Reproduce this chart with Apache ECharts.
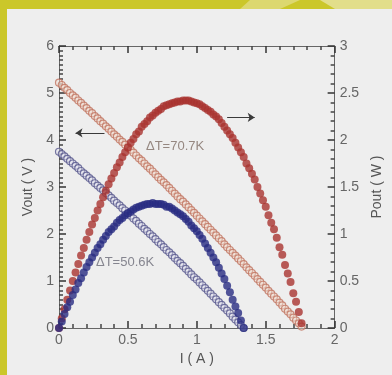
<!DOCTYPE html>
<html lang="en">
<head>
    <meta charset="UTF-8">
    <title>Vout / Pout vs I</title>
    <script type="text/javascript" src="https://cdn.jsdelivr.net/npm/echarts@6/dist/echarts.min.js"></script>
    <style>
        html, body { margin: 0; padding: 0; background: #eeeeee; }
    </style>
</head>
<body>
    <div id="main" style="width: 392px; height: 375px;"></div>
    <script type="text/javascript">
        // current (A) for the dT=70.7K run
        var redI = [0, 0.02, 0.04, 0.06, 0.08, 0.10, 0.12, 0.14, 0.16, 0.18,
            0.20, 0.22, 0.24, 0.26, 0.28, 0.30, 0.32, 0.34, 0.36, 0.38,
            0.40, 0.42, 0.44, 0.46, 0.48, 0.50, 0.52, 0.54, 0.56, 0.58,
            0.60, 0.62, 0.64, 0.66, 0.68, 0.70, 0.72, 0.74, 0.76, 0.78,
            0.80, 0.82, 0.84, 0.86, 0.88, 0.90, 0.92, 0.94, 0.96, 0.98,
            1.00, 1.02, 1.04, 1.06, 1.08, 1.10, 1.12, 1.14, 1.16, 1.18,
            1.20, 1.22, 1.24, 1.26, 1.28, 1.30, 1.32, 1.34, 1.36, 1.38,
            1.40, 1.42, 1.44, 1.46, 1.48, 1.50, 1.52, 1.54, 1.56, 1.58,
            1.60, 1.62, 1.64, 1.66, 1.68, 1.70, 1.72, 1.74, 1.76];
        var redV = [5.22, 5.17, 5.11, 5.06, 5.00, 4.95, 4.90, 4.84, 4.79, 4.73,
            4.68, 4.62, 4.57, 4.51, 4.46, 4.40, 4.35, 4.29, 4.24, 4.18,
            4.12, 4.07, 4.01, 3.96, 3.90, 3.84, 3.79, 3.73, 3.67, 3.61,
            3.56, 3.50, 3.44, 3.39, 3.33, 3.27, 3.21, 3.15, 3.10, 3.04,
            2.98, 2.92, 2.86, 2.80, 2.74, 2.69, 2.63, 2.57, 2.51, 2.45,
            2.39, 2.33, 2.27, 2.21, 2.15, 2.09, 2.03, 1.97, 1.91, 1.85,
            1.78, 1.72, 1.66, 1.60, 1.54, 1.48, 1.42, 1.36, 1.29, 1.23,
            1.17, 1.11, 1.04, 0.98, 0.92, 0.86, 0.79, 0.73, 0.67, 0.61,
            0.54, 0.48, 0.41, 0.35, 0.29, 0.22, 0.16, 0.10, 0.03];
        var redP = [0, 0.10, 0.20, 0.30, 0.40, 0.50, 0.59, 0.68, 0.77, 0.85,
            0.94, 1.02, 1.10, 1.17, 1.25, 1.32, 1.39, 1.46, 1.53, 1.59,
            1.65, 1.71, 1.76, 1.82, 1.87, 1.92, 1.97, 2.01, 2.06, 2.09,
            2.14, 2.17, 2.20, 2.24, 2.26, 2.29, 2.31, 2.33, 2.36, 2.37,
            2.38, 2.39, 2.40, 2.41, 2.41, 2.42, 2.42, 2.42, 2.41, 2.40,
            2.39, 2.38, 2.36, 2.34, 2.32, 2.30, 2.27, 2.25, 2.22, 2.18,
            2.14, 2.10, 2.06, 2.02, 1.97, 1.92, 1.87, 1.82, 1.75, 1.70,
            1.64, 1.58, 1.50, 1.43, 1.36, 1.29, 1.20, 1.12, 1.05, 0.96,
            0.86, 0.78, 0.67, 0.58, 0.49, 0.37, 0.28, 0.17, 0.05];

        // current (A) for the dT=50.6K run
        var blueI = [0, 0.02, 0.04, 0.06, 0.08, 0.10, 0.12, 0.14, 0.16, 0.18,
            0.20, 0.22, 0.24, 0.26, 0.28, 0.30, 0.32, 0.34, 0.36, 0.38,
            0.40, 0.42, 0.44, 0.46, 0.48, 0.50, 0.52, 0.54, 0.56, 0.58,
            0.60, 0.62, 0.64, 0.66, 0.68, 0.70, 0.72, 0.74, 0.76, 0.78,
            0.80, 0.82, 0.84, 0.86, 0.88, 0.90, 0.92, 0.94, 0.96, 0.98,
            1.00, 1.02, 1.04, 1.06, 1.08, 1.10, 1.12, 1.14, 1.16, 1.18,
            1.20, 1.22, 1.24, 1.26, 1.28, 1.30, 1.32, 1.34];
        var blueV = [3.75, 3.70, 3.65, 3.60, 3.55, 3.50, 3.45, 3.40, 3.34, 3.29,
            3.24, 3.19, 3.14, 3.08, 3.03, 2.98, 2.93, 2.87, 2.82, 2.77,
            2.71, 2.66, 2.61, 2.55, 2.50, 2.44, 2.39, 2.33, 2.28, 2.22,
            2.17, 2.11, 2.06, 2.00, 1.95, 1.89, 1.83, 1.78, 1.72, 1.66,
            1.61, 1.55, 1.49, 1.43, 1.38, 1.32, 1.26, 1.20, 1.14, 1.08,
            1.03, 0.97, 0.91, 0.85, 0.79, 0.73, 0.67, 0.61, 0.55, 0.49,
            0.43, 0.37, 0.31, 0.24, 0.18, 0.12, 0.06, 0.00];
        var blueP = [0, 0.07, 0.15, 0.22, 0.28, 0.35, 0.41, 0.48, 0.53, 0.59,
            0.65, 0.70, 0.75, 0.80, 0.85, 0.89, 0.94, 0.98, 1.02, 1.05,
            1.08, 1.12, 1.15, 1.17, 1.20, 1.22, 1.24, 1.26, 1.28, 1.29,
            1.30, 1.31, 1.32, 1.32, 1.33, 1.32, 1.32, 1.32, 1.31, 1.29,
            1.29, 1.27, 1.25, 1.23, 1.21, 1.19, 1.16, 1.13, 1.09, 1.06,
            1.03, 0.99, 0.95, 0.90, 0.85, 0.80, 0.75, 0.70, 0.64, 0.58,
            0.52, 0.45, 0.38, 0.30, 0.23, 0.16, 0.08, 0];

        var xTicks = [0, 0.5, 1, 1.5, 2];

        function pairs(xs, ys) {
            return xs.map(function (x, i) { return [x, ys[i]]; });
        }

        var font = 'Liberation Sans, Arial, sans-serif';

        function ax(minorSplit, extra) {
            return Object.assign({
                type: 'value',
                splitLine: { show: false },
                axisLine: { show: true, onZero: false, lineStyle: { color: '#666' } },
                axisTick: { show: true, inside: true, length: 7, lineStyle: { color: '#333', width: 1.5 } },
                minorTick: { show: true, splitNumber: minorSplit, length: 4, lineStyle: { color: '#444', width: 1.5 } },
                axisLabel: { color: '#666', fontSize: 14, fontFamily: font, margin: 5 },
                nameTextStyle: { color: '#555', fontSize: 14, fontFamily: font }
            }, extra);
        }

        var arrowLine = {
            silent: true,
            symbol: ['none', 'arrow'],
            symbolSize: 7,
            label: { show: false },
            emphasis: { disabled: true },
            lineStyle: { color: '#3a3a3a', width: 1, type: 'solid' }
        };

        var myChart = echarts.init(document.getElementById('main'));
        var option = {
            animation: false,
            backgroundColor: '#eeeeee',
            grid: { left: 59, right: 52, top: 46, bottom: 47 },
            xAxis: [
                ax(5, { position: 'bottom', min: xTicks[0], max: xTicks[xTicks.length - 1], interval: 0.5,
                    name: 'I ( A )', nameLocation: 'middle', nameGap: 24 }),
                ax(5, { position: 'top', min: 0, max: 2, interval: 0.5, axisLabel: { show: false } })
            ],
            yAxis: [
                ax(10, { position: 'left', min: 0, max: 6, interval: 1,
                    name: 'Vout ( V )', nameLocation: 'middle', nameGap: 18, nameRotate: 90 }),
                ax(5, { position: 'right', min: 0, max: 3, interval: 0.5,
                    name: 'Pout ( W )', nameLocation: 'middle', nameGap: 30, nameRotate: 90 })
            ],
            graphic: [
                { type: 'rect', left: 0, top: 0, shape: { width: 7, height: 375 }, style: { fill: '#cbc72a' }, z: 100 },
                { type: 'rect', left: 0, top: 0, shape: { width: 392, height: 9 }, style: { fill: '#cbc72a' }, z: 100 },
                { type: 'polygon', shape: { points: [[250, 0], [300, 0], [280, 9], [240, 9]] }, style: { fill: '#dcd870' }, z: 101 },
                { type: 'polygon', shape: { points: [[320, 0], [392, 0], [392, 9], [335, 9]] }, style: { fill: '#e2de8a' }, z: 101 },
                {
                    type: 'text', left: 146, top: 140, z: 50,
                    style: { text: '\u0394T=70.7K', fill: '#958780', font: '13px ' + font }
                },
                {
                    type: 'text', left: 96, top: 256, z: 50,
                    style: { text: '\u0394T=50.6K', fill: '#85858f', font: '13px ' + font }
                }
            ],
            series: [
                {
                    name: 'Vout 70.7K', type: 'scatter', xAxisIndex: 0, yAxisIndex: 0,
                    data: pairs(redI, redV), symbol: 'circle', symbolSize: 7,
                    itemStyle: { color: 'rgba(240,222,210,0.6)', borderColor: '#c0735f', borderWidth: 1.2 },
                    markLine: Object.assign({ data: [[{ coord: [0.33, 4.15] }, { coord: [0.12, 4.15] }]] }, arrowLine)
                },
                {
                    name: 'Vout 50.6K', type: 'scatter', xAxisIndex: 0, yAxisIndex: 0,
                    data: pairs(blueI, blueV), symbol: 'circle', symbolSize: 7,
                    itemStyle: { color: 'rgba(225,225,238,0.6)', borderColor: '#56568c', borderWidth: 1.2 }
                },
                {
                    name: 'Pout 70.7K', type: 'scatter', xAxisIndex: 0, yAxisIndex: 1,
                    data: pairs(redI, redP), symbol: 'circle', symbolSize: 8,
                    itemStyle: { color: '#a9332f' },
                    markLine: Object.assign({ data: [[{ coord: [1.22, 2.24] }, { coord: [1.42, 2.24] }]] }, arrowLine)
                },
                {
                    name: 'Pout 50.6K', type: 'scatter', xAxisIndex: 0, yAxisIndex: 1,
                    data: pairs(blueI, blueP), symbol: 'circle', symbolSize: 8,
                    itemStyle: { color: '#282c82' }
                }
            ]
        };
        myChart.setOption(option);
    </script>
</body>
</html>
